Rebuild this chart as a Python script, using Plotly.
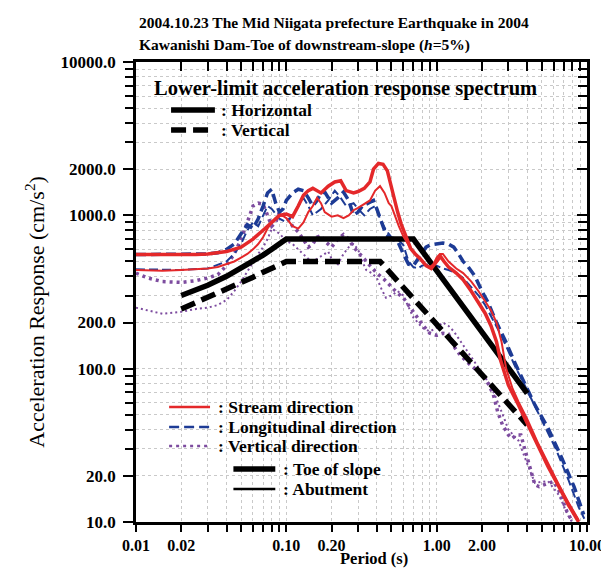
import plotly.graph_objects as go

# ---------------- data ----------------
# Lower-limit acceleration response spectrum
ll_h_period = [0.02, 0.03, 0.04, 0.05, 0.06, 0.07, 0.08, 0.09, 0.1, 0.7, 1.0, 1.5, 2.0, 3.0, 4.0]
ll_h_accel = [300, 350, 400, 450, 500, 550, 600, 650, 700, 700, 435, 254, 174, 101, 69]
ll_v_period = [0.02, 0.03, 0.04, 0.05, 0.06, 0.07, 0.08, 0.09, 0.1, 0.42, 0.6, 1.0, 1.5, 2.0, 3.0, 4.0]
ll_v_accel = [245, 290, 330, 365, 395, 425, 450, 475, 500, 500, 339, 194, 125, 91, 58, 43]

# Stream direction, toe of slope (thick red)
stream_toe_period = [0.01, 0.015, 0.02, 0.025, 0.03, 0.04, 0.05, 0.06, 0.07, 0.08, 0.09, 0.1, 0.11, 0.12,
                     0.13, 0.14, 0.15, 0.17, 0.19, 0.21, 0.23, 0.25, 0.28, 0.3, 0.33, 0.36, 0.38, 0.41,
                     0.44, 0.47, 0.5, 0.55, 0.58, 0.63, 0.67, 0.72, 0.78, 0.85, 0.92, 1.0, 1.06, 1.12,
                     1.2, 1.35, 1.5, 1.7, 1.9, 2.1, 2.3, 2.5, 2.65, 2.8, 3.0, 3.5, 4.0, 4.7, 5.5, 6.5,
                     7.5, 8.8]
stream_toe_accel = [555, 552, 555, 555, 560, 580, 620, 700, 800, 900, 1000, 1020, 980, 1150,
                    1350, 1450, 1500, 1400, 1550, 1650, 1680, 1450, 1400, 1430, 1500, 1650, 2000, 2180,
                    2150, 1950, 1500, 1050, 880, 720, 610, 560, 520, 470, 450, 500, 540, 500,
                    460, 420, 380, 320, 270, 230, 190, 150, 115, 95, 78, 58, 44, 31, 23, 17,
                    13, 10]

# Stream direction, abutment (thin red)
stream_abut_period = [0.01, 0.015, 0.02, 0.025, 0.03, 0.035, 0.04, 0.045, 0.05, 0.055, 0.06, 0.065,
                      0.07, 0.075, 0.08, 0.085, 0.09, 0.095, 0.1, 0.11, 0.12, 0.13, 0.14, 0.15, 0.16,
                      0.17, 0.18, 0.2, 0.22, 0.24, 0.26, 0.28, 0.3, 0.33, 0.36, 0.39, 0.42, 0.45,
                      0.48, 0.5, 0.53, 0.56, 0.6, 0.65, 0.7, 0.75, 0.8, 0.85, 0.9, 0.95, 1.0, 1.05,
                      1.1, 1.2, 1.35, 1.5, 1.7, 1.9, 2.1, 2.3, 2.5, 2.7, 2.9, 3.2, 3.5, 4.0, 4.7,
                      5.5, 6.5, 7.5, 8.8]
stream_abut_accel = [440, 435, 440, 445, 450, 460, 480, 500, 530, 560, 600, 650,
                     720, 820, 900, 960, 1000, 990, 960, 850, 820, 900, 1050, 1150, 1300,
                     1200, 1050, 980, 1000, 960, 1000, 1080, 1120, 1180, 1250, 1450, 1550, 1400,
                     1200, 1150, 980, 850, 730, 640, 580, 540, 500, 470, 460, 480, 530, 560,
                     560, 500, 450, 420, 370, 320, 275, 240, 200, 150, 100, 74, 61, 47, 33,
                     24, 17.5, 13.5, 10.3]

# Longitudinal direction, toe of slope (thick blue dashed)
long_toe_period = [0.01, 0.02, 0.03, 0.035, 0.04, 0.045, 0.05, 0.055, 0.06, 0.065, 0.07, 0.075, 0.08,
                   0.085, 0.09, 0.095, 0.1, 0.11, 0.12, 0.13, 0.14, 0.15, 0.16, 0.17, 0.18, 0.19,
                   0.2, 0.22, 0.24, 0.26, 0.28, 0.3, 0.32, 0.35, 0.38, 0.4, 0.43, 0.46, 0.5, 0.55,
                   0.6, 0.65, 0.7, 0.75, 0.8, 0.85, 0.9, 1.0, 1.1, 1.2, 1.3, 1.4, 1.5, 1.6, 1.8,
                   2.0, 2.2, 2.5, 2.9, 3.3, 3.9, 4.5, 5.5, 6.7, 8.2, 9.5]
long_toe_accel = [555, 555, 560, 570, 600, 650, 760, 870, 820, 950, 1150, 1400, 1480,
                  1200, 1050, 1100, 1250, 1400, 1480, 1450, 1300, 1150, 1250, 1400, 1420, 1300,
                  1200, 1300, 1420, 1250, 1000, 1050, 1150, 1200, 1250, 1100, 900, 750, 700, 680,
                  560, 480, 470, 520, 580, 620, 640, 650, 660, 650, 620, 560, 500, 470, 400,
                  320, 270, 200, 148, 110, 78, 58, 41, 27, 17, 11.2]

# Longitudinal direction, abutment (thin blue dashed)
long_abut_period = [0.01, 0.015, 0.02, 0.03, 0.04, 0.045, 0.05, 0.055, 0.06, 0.065, 0.07, 0.075, 0.08,
                    0.09, 0.1, 0.11, 0.12, 0.13, 0.14, 0.15, 0.17, 0.19, 0.21, 0.23, 0.25, 0.28, 0.3,
                    0.33, 0.36, 0.39, 0.42, 0.46, 0.5, 0.55, 0.6, 0.65, 0.7, 0.75, 0.8, 0.9, 1.0,
                    1.1, 1.2, 1.35, 1.5, 1.7, 1.9, 2.1, 2.3, 2.6, 2.9, 3.3, 3.8, 4.4, 5.2, 6.2,
                    7.5, 8.8, 9.6]
long_abut_accel = [445, 440, 440, 450, 500, 560, 650, 800, 900, 850, 1000, 1150, 1100,
                   950, 900, 1000, 1150, 1300, 1150, 1000, 1100, 1250, 1450, 1300, 1150, 1200, 1100,
                   1000, 1100, 1150, 950, 800, 720, 700, 640, 500, 460, 450, 470, 480, 470,
                   450, 440, 420, 390, 340, 300, 260, 220, 175, 140, 105, 80, 60, 43, 30,
                   19, 12.5, 10.5]

# Vertical direction, toe of slope (thick purple dotted)
vert_toe_period = [0.01, 0.012, 0.015, 0.02, 0.025, 0.03, 0.035, 0.04, 0.045, 0.05, 0.055, 0.06, 0.065,
                   0.07, 0.075, 0.08, 0.085, 0.09, 0.1, 0.11, 0.12, 0.13, 0.14, 0.15, 0.16, 0.17,
                   0.18, 0.2, 0.22, 0.24, 0.26, 0.28, 0.3, 0.33, 0.36, 0.4, 0.45, 0.5, 0.55, 0.6,
                   0.65, 0.7, 0.75, 0.8, 0.9, 1.0, 1.1, 1.2, 1.3, 1.43, 1.67, 2.02, 2.2, 2.38,
                   2.55, 2.74, 3.0, 3.17, 3.4, 3.63, 3.85, 4.06, 4.3, 4.5, 4.8, 5.2, 5.6, 6.0,
                   6.5, 6.9, 7.4, 7.9]
vert_toe_accel = [420, 390, 370, 365, 375, 390, 410, 470, 560, 700, 900, 1150, 1200,
                  1180, 1000, 850, 900, 1050, 1000, 850, 780, 700, 620, 650, 720, 740,
                  680, 620, 700, 750, 700, 620, 580, 520, 470, 420, 380, 340, 310, 290,
                  260, 230, 210, 195, 170, 165, 170, 168, 140, 123, 106, 91, 80, 68,
                  52, 43, 37, 35, 37, 37, 30, 25, 20, 17.5, 17, 17.5, 18, 18.4,
                  16, 13.6, 11.5, 10.3]

# Vertical direction, abutment (thin purple dotted)
vert_abut_period = [0.01, 0.012, 0.015, 0.02, 0.025, 0.03, 0.035, 0.04, 0.045, 0.05, 0.055, 0.06,
                    0.065, 0.07, 0.075, 0.08, 0.09, 0.1, 0.11, 0.12, 0.13, 0.14, 0.15, 0.17, 0.19,
                    0.2, 0.22, 0.24, 0.26, 0.28, 0.3, 0.32, 0.34, 0.37, 0.4, 0.43, 0.46, 0.5, 0.55,
                    0.6, 0.65, 0.7, 0.75, 0.8, 0.9, 1.0, 1.1, 1.2, 1.3, 1.45, 1.6, 1.8, 2.0, 2.2,
                    2.4, 2.6, 2.8, 3.0, 3.5, 4.0, 4.5, 5.5, 6.5, 7.5, 8.2]
vert_abut_accel = [250, 240, 228, 235, 245, 250, 260, 280, 320, 370, 430, 500,
                   560, 620, 700, 820, 760, 680, 650, 600, 560, 520, 500, 540, 580,
                   520, 480, 560, 620, 650, 600, 500, 440, 420, 390, 330, 290, 300, 320,
                   300, 250, 215, 200, 185, 175, 185, 200, 190, 175, 150, 130, 110, 95, 82,
                   70, 58, 48, 40, 34, 24, 18, 18.5, 15, 11, 9.5]

x_tickvals = [0.01, 0.02, 0.1, 0.2, 1, 2, 10]
x_ticktext = ["0.01", "0.02", "0.10", "0.20", "1.00", "2.00", "10.00"]
x_minor = [0.03, 0.04, 0.05, 0.06, 0.07, 0.08, 0.09, 0.3, 0.4, 0.5, 0.6, 0.7, 0.8, 0.9,
           3, 4, 5, 6, 7, 8, 9]
y_tickvals = [10, 20, 100, 200, 1000, 2000, 10000]
y_ticktext = ["10.0", "20.0", "100.0", "200.0", "1000.0", "2000.0", "10000.0"]
y_minor = [30, 40, 50, 60, 70, 80, 90, 300, 400, 500, 600, 700, 800, 900,
           3000, 4000, 5000, 6000, 7000, 8000, 9000]

# ---------------- style ----------------
RED = "#e4282a"
BLUE = "#1d3b95"
PURPLE = "#7d4c9f"
SERIF = "Liberation Serif"

# plot area in pixels
PL, PR, PT, PB = 128, 591, 54, 514
W, H = 609, 572


def xp(px):
    return (px - PL) / (PR - PL)


def yp(py):
    return (PB - py) / (PB - PT)


fig = go.Figure()


def add(x, y, color, width, dash="solid"):
    fig.add_trace(go.Scatter(x=x, y=y, mode="lines",
                             line=dict(color=color, width=width, dash=dash),
                             showlegend=False, hoverinfo="skip"))


# observed spectra
add(vert_abut_period, vert_abut_accel, PURPLE, 2, "2px,3px")
add(vert_toe_period, vert_toe_accel, PURPLE, 3.5, "3px,4px")
add(long_abut_period, long_abut_accel, BLUE, 2, "9px,4px")
add(long_toe_period, long_toe_accel, BLUE, 3.5, "10px,5px")
# lower limit
add(ll_v_period, ll_v_accel, "black", 5.5, "15px,7px")
add(ll_h_period, ll_h_accel, "black", 5.5)
add(stream_abut_period, stream_abut_accel, RED, 2)
add(stream_toe_period, stream_toe_accel, RED, 3.5)

grid = dict(gridcolor="#c9c9c9", griddash="dot", gridwidth=1)
TICKFONT = dict(family=SERIF, size=17, color="black", weight="bold")
XTICKFONT = dict(family=SERIF, size=16, color="black", weight="bold")

fig.update_layout(
    width=W, height=H,
    margin=dict(l=PL, r=W - PR, t=PT, b=H - PB),
    paper_bgcolor="white", plot_bgcolor="white",
    showlegend=False,
    xaxis=dict(type="log", range=[-2, 1], tickmode="array", tickvals=x_tickvals,
               ticktext=x_ticktext, ticks="outside", ticklen=7, tickwidth=2, tickcolor="black",
               showline=True, linecolor="black", linewidth=2.5, showgrid=True, **grid,
               minor=dict(tickmode="array", tickvals=x_minor, ticks="outside", ticklen=7,
                          tickwidth=2, tickcolor="black", showgrid=True, **grid),
               tickfont=XTICKFONT, ticklabeloverflow="allow", zeroline=False),
    yaxis=dict(type="log", range=[1, 4], tickmode="array", tickvals=y_tickvals,
               ticktext=y_ticktext, ticks="outside", ticklen=10, tickwidth=2, tickcolor="black",
               showline=True, linecolor="black", linewidth=2.5, showgrid=True, **grid,
               minor=dict(tickmode="array", tickvals=y_minor, ticks="outside", ticklen=8,
                          tickwidth=2, tickcolor="black", showgrid=True, **grid),
               tickfont=TICKFONT, ticklabelstandoff=4, ticklabeloverflow="allow",
               zeroline=False),
    xaxis2=dict(type="log", range=[-2, 1], overlaying="x", side="top", anchor="y",
                tickmode="array", tickvals=x_tickvals, showticklabels=False,
                ticks="inside", ticklen=9, tickwidth=2, tickcolor="black",
                showline=True, linecolor="black", linewidth=2.5, showgrid=False,
                minor=dict(tickmode="array", tickvals=x_minor, ticks="inside", ticklen=9,
                           tickwidth=2, tickcolor="black", showgrid=False),
                zeroline=False),
    yaxis2=dict(type="log", range=[1, 4], overlaying="y", side="right", anchor="x",
                tickmode="array", tickvals=y_tickvals, showticklabels=False,
                ticks="inside", ticklen=10, tickwidth=2, tickcolor="black",
                showline=True, linecolor="black", linewidth=2.5, showgrid=False,
                minor=dict(tickmode="array", tickvals=y_minor, ticks="inside", ticklen=9,
                           tickwidth=2, tickcolor="black", showgrid=False),
                zeroline=False),
)

# invisible trace so the mirrored top/right axes are drawn
fig.add_trace(go.Scatter(x=[x_tickvals[0]], y=[y_tickvals[0]], xaxis="x2", yaxis="y2",
                         mode="markers", marker=dict(opacity=0), showlegend=False,
                         hoverinfo="skip"))

ann = []


def text(px, py, s, size, bold=True, anchor="left", angle=0):
    ann.append(dict(x=xp(px), y=yp(py), xref="paper", yref="paper", text=s, showarrow=False,
                    xanchor=anchor, yanchor="middle", textangle=angle,
                    font=dict(family=SERIF, size=size, color="black",
                              weight="bold" if bold else "normal")))


# titles
text(129, 15, "2004.10.23 The Mid Niigata prefecture Earthquake in 2004", 15.5)
text(129, 37, "Kawanishi Dam-Toe of downstream-slope (<i>h</i>=5%)", 15.5)
text(24, 304, "Acceleration Response (cm/s<sup>2</sup>)", 22, bold=False, anchor="center", angle=-90)
text(372, 550, "Period (s)", 16.5, anchor="center")

# legend 1
text(144, 80, "Lower-limit acceleration response spectrum", 20.5)
text(213, 102, ": Horizontal", 17.5)
text(213, 122, ": Vertical", 17.5)
# legend 2
text(210, 399, ": Stream direction", 17.5)
text(210, 419, ": Longitudinal direction", 17.5)
text(210, 438, ": Vertical direction", 17.5)
text(277, 461, ": Toe of slope", 17.5)
text(277, 481, ": Abutment", 17.5)

shapes = []


def seg(x0, x1, py, color, width, dash="solid"):
    shapes.append(dict(type="line", xref="paper", yref="paper", x0=xp(x0), x1=xp(x1),
                       y0=yp(py), y1=yp(py), line=dict(color=color, width=width, dash=dash)))


seg(164, 209, 102, "black", 5.5)
seg(164, 209, 122, "black", 5.5, "15px,7px")
seg(162, 204, 399, RED, 2.5)
seg(162, 204, 419, BLUE, 2.5, "10px,5px")
seg(162, 204, 438, PURPLE, 2.5, "3px,4px")
seg(228, 271, 461, "black", 5.5)
seg(228, 271, 481, "black", 2.5)

fig.update_layout(annotations=ann, shapes=shapes)
fig.write_html("out.html")
